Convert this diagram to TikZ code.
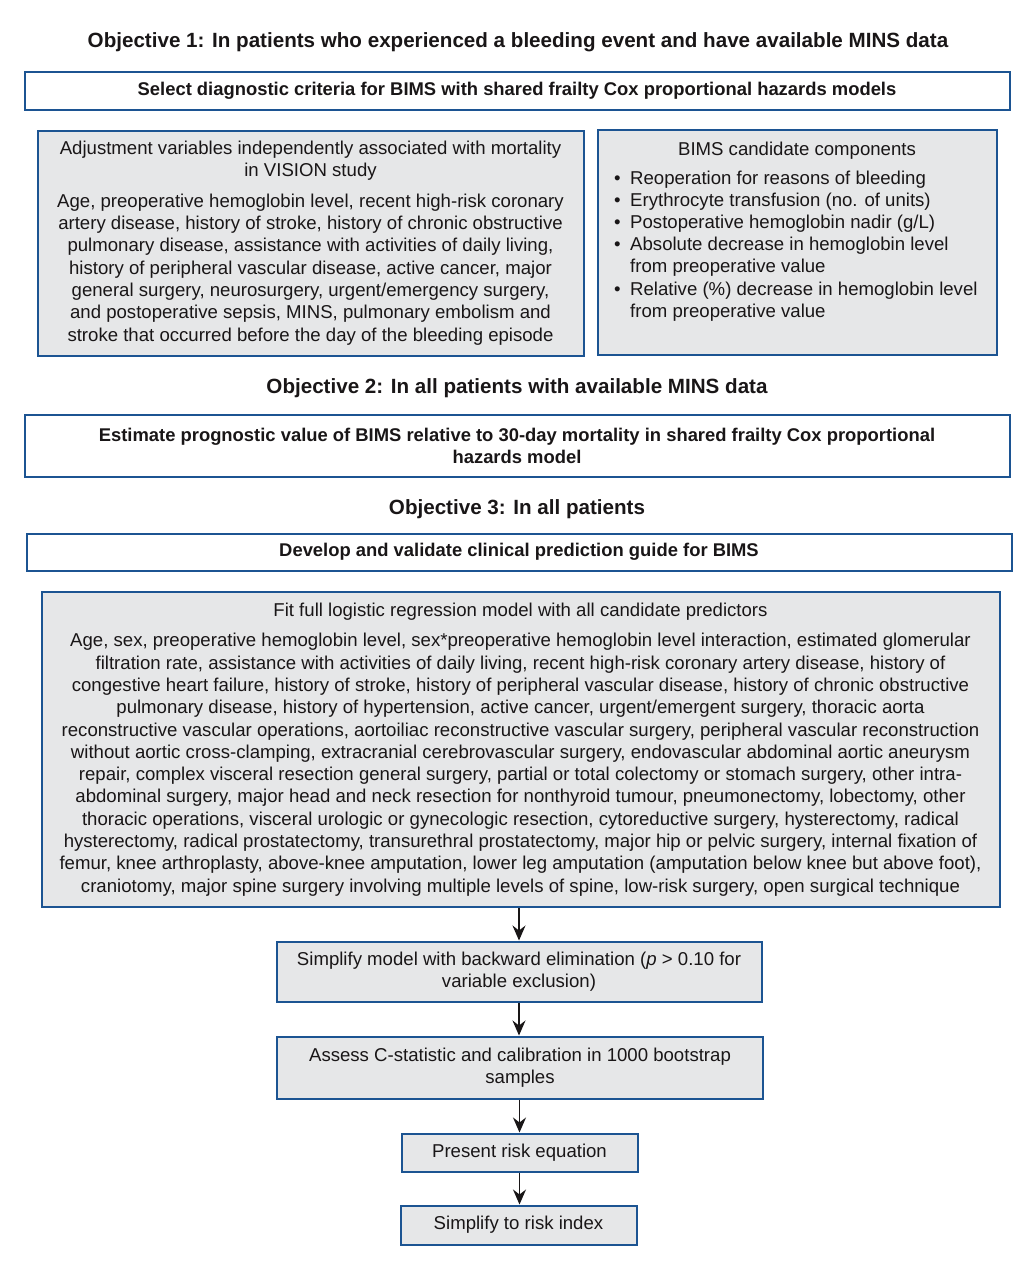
\documentclass[tikz,border=0pt]{standalone}
\usepackage{fontspec}
\setmainfont{Liberation Sans}
\usetikzlibrary{arrows.meta}
\definecolor{bcol}{RGB}{28,84,146}
\definecolor{gfill}{RGB}{230,231,232}
\definecolor{tcol}{RGB}{25,22,23}
\begin{document}
\begin{tikzpicture}[x=1pt,y=-1pt,
 box/.style={draw=bcol, line width=2pt, fill=gfill, inner sep=0pt, text=tcol, align=center, font=\fontsize{18.6}{22.3}\selectfont},
 wbox/.style={box, fill=white, font=\bfseries\fontsize{18.4}{22}\selectfont},
 ttl/.style={font=\bfseries\fontsize{20.6}{24}\selectfont, text=tcol, inner sep=0pt},
 plain/.style={inner sep=0pt, text=tcol, font=\fontsize{18.6}{22.2}\selectfont},
 arr/.style={-{Stealth[length=15pt,width=13pt,inset=5pt]}, line width=1.4pt, draw=tcol}]
\useasboundingbox[fill=white] (0,0) rectangle (1030,1280);

\node[ttl] (t1) at (518,42) {Objective 1: In patients who experienced a bleeding event and have available MINS data};

\node[wbox, minimum width=985pt, minimum height=38pt] (b1) at (517,90.5) {Select diagnostic criteria for BIMS with shared frailty Cox proportional hazards models};

\node[box, minimum width=546pt, minimum height=225pt] (b2) at (310.5,243) {Adjustment variables independently associated with mortality\\in VISION study\\[8pt]
Age, preoperative hemoglobin level, recent high-risk coronary\\
artery disease, history of stroke, history of chronic obstructive\\
pulmonary disease, assistance with activities of daily living,\\
history of peripheral vascular disease, active cancer, major\\
general surgery, neurosurgery, urgent/emergency surgery,\\
and postoperative sepsis, MINS, pulmonary embolism and\\
stroke that occurred before the day of the bleeding episode};

\node[box, minimum width=399pt, minimum height=225pt] (b3) at (797,242) {};
\node[plain, anchor=base] (b3t) at (797,155.5) {BIMS candidate components};
\node[plain, anchor=north west, align=left] (b3l) at (612,170.5) {\makebox[18pt][l]{\hspace{2pt}•}Reoperation for reasons of bleeding\\
\makebox[18pt][l]{\hspace{2pt}•}Erythrocyte transfusion (no. of units)\\
\makebox[18pt][l]{\hspace{2pt}•}Postoperative hemoglobin nadir (g/L)\\
\makebox[18pt][l]{\hspace{2pt}•}Absolute decrease in hemoglobin level\\
\hspace*{18pt}from preoperative value\\
\makebox[18pt][l]{\hspace{2pt}•}Relative (\%) decrease in hemoglobin level\\
\hspace*{18pt}from preoperative value};

\node[ttl] (t2) at (517,388) {Objective 2: In all patients with available MINS data};

\node[wbox, minimum width=985pt, minimum height=62pt] (b4) at (517,445.5) {Estimate prognostic value of BIMS relative to 30-day mortality in shared frailty Cox proportional\\hazards model};

\node[ttl] (t3) at (517,509) {Objective 3: In all patients};

\node[wbox, minimum width=985pt, minimum height=37pt] (b5) at (519,552) {Develop and validate clinical prediction guide for BIMS};

\node[box, minimum width=958pt, minimum height=315pt] (b6) at (520.5,749.5) {Fit full logistic regression model with all candidate predictors\\[8pt]
Age, sex, preoperative hemoglobin level, sex*preoperative hemoglobin level interaction, estimated glomerular\\
filtration rate, assistance with activities of daily living, recent high-risk coronary artery disease, history of\\
congestive heart failure, history of stroke, history of peripheral vascular disease, history of chronic obstructive\\
pulmonary disease, history of hypertension, active cancer, urgent/emergent surgery, thoracic aorta\\
reconstructive vascular operations, aortoiliac reconstructive vascular surgery, peripheral vascular reconstruction\\
without aortic cross-clamping, extracranial cerebrovascular surgery, endovascular abdominal aortic aneurysm\\
repair, complex visceral resection general surgery, partial or total colectomy or stomach surgery, other intra-\\
abdominal surgery, major head and neck resection for nonthyroid tumour, pneumonectomy, lobectomy, other\\
thoracic operations, visceral urologic or gynecologic resection, cytoreductive surgery, hysterectomy, radical\\
hysterectomy, radical prostatectomy, transurethral prostatectomy, major hip or pelvic surgery, internal fixation of\\
femur, knee arthroplasty, above-knee amputation, lower leg amputation (amputation below knee but above foot),\\
craniotomy, major spine surgery involving multiple levels of spine, low-risk surgery, open surgical technique};

\node[box, minimum width=485pt, minimum height=60pt] (b7) at (519,971.5) {Simplify model with backward elimination (\textit{p} > 0.10 for\\variable exclusion)};

\node[box, minimum width=486pt, minimum height=62pt] (b8) at (520,1067.5) {Assess C-statistic and calibration in 1000 bootstrap\\samples};

\node[box, minimum width=236pt, minimum height=38pt] (b9) at (519.5,1152.5) {Present risk equation};

\node[box, minimum width=236pt, minimum height=39pt] (b10) at (518.5,1225) {Simplify to risk index};

\draw[arr] (b6.south -| b7.north) -- (b7.north);
\draw[arr] (b7.south) -- (b7.south |- b8.north);
\draw[arr] (b8.south -| b9.north) -- (b9.north);
\draw[arr] (b9.south) -- (b9.south |- b10.north);
\end{tikzpicture}
\end{document}
